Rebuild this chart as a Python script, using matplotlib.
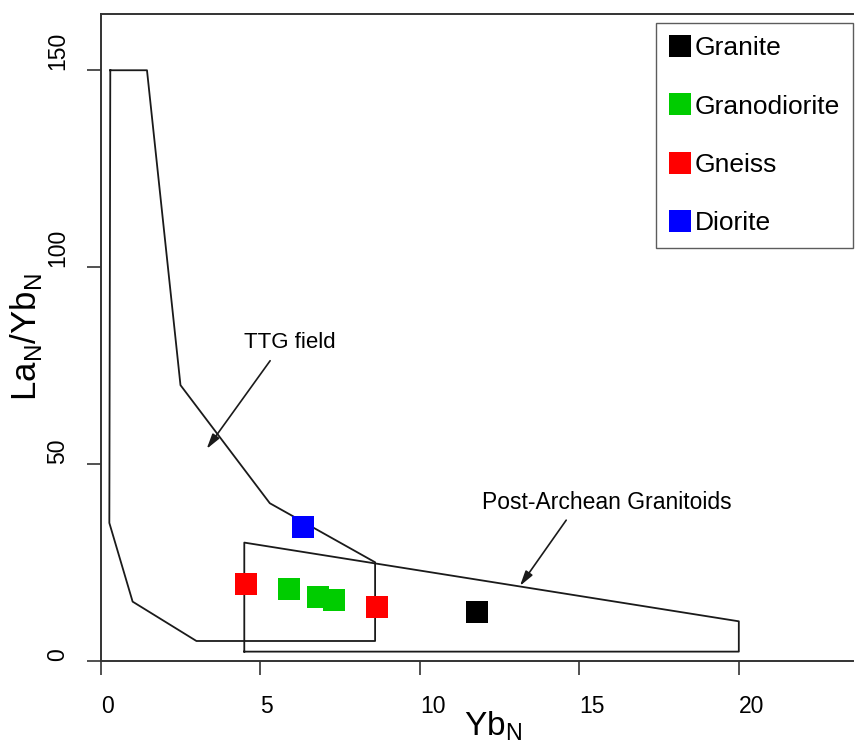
import numpy as np
import matplotlib
matplotlib.use("Agg")
from matplotlib import pyplot as plt

# TTG field outline (YbN, LaN/YbN)
ttg_x = [0.3, 1.45, 2.5, 5.3, 8.6, 8.6, 3.0, 1.0, 0.27, 0.3]
ttg_y = [150, 150, 70, 40, 25, 5, 5, 15, 35, 150]

# Post-Archean granitoids outline
pag_x = [4.5, 4.5, 20.0, 20.0, 4.5]
pag_y = [2.3, 30, 10, 2.3, 2.3]

# samples
groups = ['Granite', 'Granodiorite', 'Gneiss', 'Diorite']
colors = ['#000000', '#00cc00', '#ff0000', '#0000ff']
granite_x, granite_y = [11.8], [12.3]
granodiorite_x, granodiorite_y = [5.9, 6.8, 7.3], [18.1, 16.2, 15.4]
gneiss_x, gneiss_y = [4.55, 8.65], [19.6, 13.6]
diorite_x, diorite_y = [6.35], [34.0]
samples = [(granite_x, granite_y), (granodiorite_x, granodiorite_y),
           (gneiss_x, gneiss_y), (diorite_x, diorite_y)]

plt.rcParams['font.family'] = ['Liberation Sans', 'DejaVu Sans']

fig = plt.figure(figsize=(8.55, 7.43), dpi=100)
ax = fig.add_axes([0.1178, 0.1108, 0.8799, 0.8704])

ax.plot(ttg_x, ttg_y, color='#1a1a1a', lw=1.3)
ax.plot(pag_x, pag_y, color='#1a1a1a', lw=1.3)

for (xs, ys), name, c in zip(samples, groups, colors):
    ax.plot(xs, ys, ls='none', marker='s', ms=16.5, color=c, mec=c, mew=0, label=name)

arrow = dict(arrowstyle='-|>,head_length=0.9,head_width=0.25', color='#1a1a1a', lw=1.2,
             shrinkA=0, shrinkB=0)
ax.annotate('', xy=(3.32, 53.8), xytext=(5.31, 76.2), arrowprops=arrow)
ax.text(5.92, 80.8, 'TTG field', fontsize=16, ha='center', va='center')
ax.annotate('', xy=(13.14, 19.0), xytext=(14.59, 35.7), arrowprops=arrow)
ax.text(15.85, 40.1, 'Post-Archean Granitoids', fontsize=16.5, ha='center', va='center')

ax.set_xlim(0, 23.58)
ax.set_ylim(0, 164.3)
ax.set_xticks([0, 5, 10, 15, 20])
ax.set_yticks([0, 50, 100, 150])
ax.tick_params(direction='out', length=10, width=1.2, labelsize=16.5, color='#333333')
ax.tick_params(axis='x', pad=15)
ax.tick_params(axis='y', pad=13)
for lab in ax.get_xticklabels():
    lab.set_ha('left')
for lab in ax.get_yticklabels():
    lab.set_rotation(90)
    lab.set_va('bottom')
for sp in ax.spines.values():
    sp.set_linewidth(1.4)
    sp.set_color('#333333')
ax.spines['right'].set_visible(False)

ax.set_xlabel('Yb$_\\mathregular{N}$', fontsize=24, labelpad=-6)
ax.xaxis.set_label_coords(0.522, -0.075, transform=ax.transAxes)
ax.xaxis.label.set_va('top')
ax.set_ylabel('La$_\\mathregular{N}$/Yb$_\\mathregular{N}$', fontsize=25, labelpad=1)

leg = ax.legend(loc='upper right', bbox_to_anchor=(1.0, 0.986), borderaxespad=0,
                fontsize=19, frameon=True, fancybox=False, edgecolor='#333333',
                labelspacing=1.3, handlelength=0.8, handletextpad=0.15,
                borderpad=0.5, markerscale=0.95)
leg.get_frame().set_linewidth(1.0)

fig.savefig('out.png', dpi=100)
